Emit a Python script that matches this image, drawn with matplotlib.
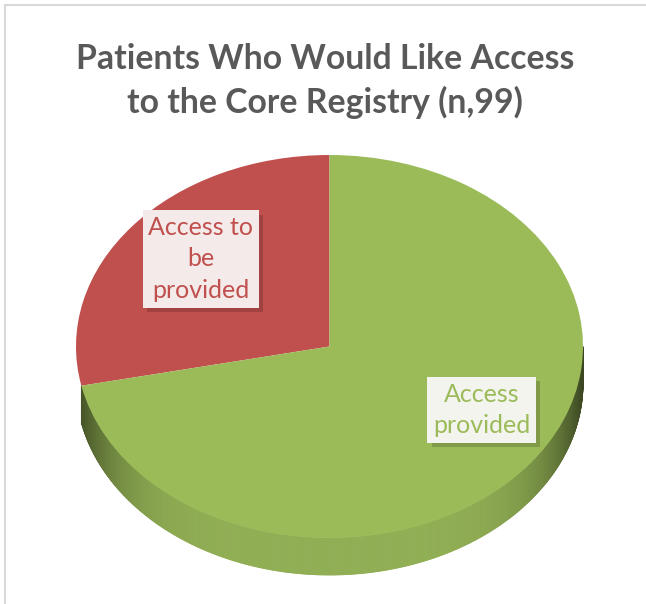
import numpy as np
import matplotlib
matplotlib.use("Agg")
import matplotlib.pyplot as plt
from matplotlib.collections import PolyCollection
from matplotlib.lines import Line2D
import matplotlib.patheffects as pe
from matplotlib.colors import to_rgb

# ---- data ----
title = "Patients Who Would Like Access\nto the Core Registry (n,99)"
categories = ["Access to\nbe\nprovided", "Access\nprovided"]
values = [28, 71]
colors = ["#C0504D", "#9BBB59"]
label_colors = ["#C0504D", "#9BBB59"]

W, H = 646, 604
fig = plt.figure(figsize=(W / 100, H / 100), dpi=100)
ax = fig.add_axes([0, 0, 1, 1])

cx_px, cy_px, rx_px, ry_px = 329.5, 346.5, 253.5, 191.5
thick = 37 / ry_px

wedges, _ = ax.pie(values, colors=colors, startangle=90, counterclock=True,
                   radius=1.0, wedgeprops=dict(linewidth=0, zorder=3))
ax.set_aspect('auto')
ax.set_xlim(-cx_px / rx_px, (W - cx_px) / rx_px)
ax.set_ylim((cy_px - H) / ry_px, cy_px / ry_px)
ax.axis('off')

# ---- 3D side of the pie, derived from wedge angles ----
polys, pcols = [], []
for w, c in zip(wedges, colors):
    t1, t2 = w.theta1, w.theta2
    segs = []
    for k in range(-1, 2):
        a0 = max(t1, 180 + 360 * k)
        a1 = min(t2, 360 + 360 * k)
        if a1 - a0 > 15:   # tiny slivers are hidden by the perspective
            segs.append((a0, a1))
    base = np.array(to_rgb(c))
    for a0, a1 in segs:
        angs = np.linspace(a0, a1, int((a1 - a0) * 3) + 2)
        for a, b in zip(angs[:-1], angs[1:]):
            ra, rb = np.radians(a), np.radians(b)
            polys.append([(np.cos(ra), np.sin(ra)), (np.cos(rb), np.sin(rb)),
                          (np.cos(rb), np.sin(rb) - thick), (np.cos(ra), np.sin(ra) - thick)])
            m = np.radians((a + b) / 2)
            f = 0.93 - 0.55 * abs(np.cos(m)) ** 6
            pcols.append(tuple(np.clip(base * f, 0, 1)))
ax.add_collection(PolyCollection(polys, facecolors=pcols, edgecolors=pcols,
                                 linewidths=0.6, zorder=2))

# ---- labels ----
def P(px, py):
    return (px - cx_px) / rx_px, (cy_px - py) / ry_px

label_pos = [P(201, 259), P(481.5, 410)]
box_faces = ["#F5EAEA", "#F4F4EF"]
shadow_cols = ["#8E3A38", "#6E8540"]
for txt, pos, tc, bf, sc in zip(categories, label_pos, label_colors, box_faces, shadow_cols):
    t = ax.text(pos[0], pos[1], txt, ha='center', va='center', color=tc,
                fontsize=18, family='Lato', linespacing=1.45, zorder=5,
                bbox=dict(boxstyle='square,pad=0.22', facecolor=bf, edgecolor='none'))
    t.get_bbox_patch().set_path_effects([
        pe.SimplePatchShadow(offset=(3, -3), shadow_rgbFace=sc, alpha=0.6),
        pe.Normal()])

# ---- title ----
fig.text(325 / W, 1 - 81 / H, title, ha='center', va='center', color='#595959',
         fontsize=24.3, fontweight='bold', family='Lato', linespacing=1.42)

# ---- chart border (top and left visible) ----
fig.add_artist(Line2D([5 / W, 1], [1 - 5 / H, 1 - 5 / H], color='#D9D9D9', lw=1.5,
                      transform=fig.transFigure))
fig.add_artist(Line2D([5 / W, 5 / W], [0, 1 - 5 / H], color='#D9D9D9', lw=1.5,
                      transform=fig.transFigure))

fig.savefig("out.png", dpi=100, facecolor='white')
